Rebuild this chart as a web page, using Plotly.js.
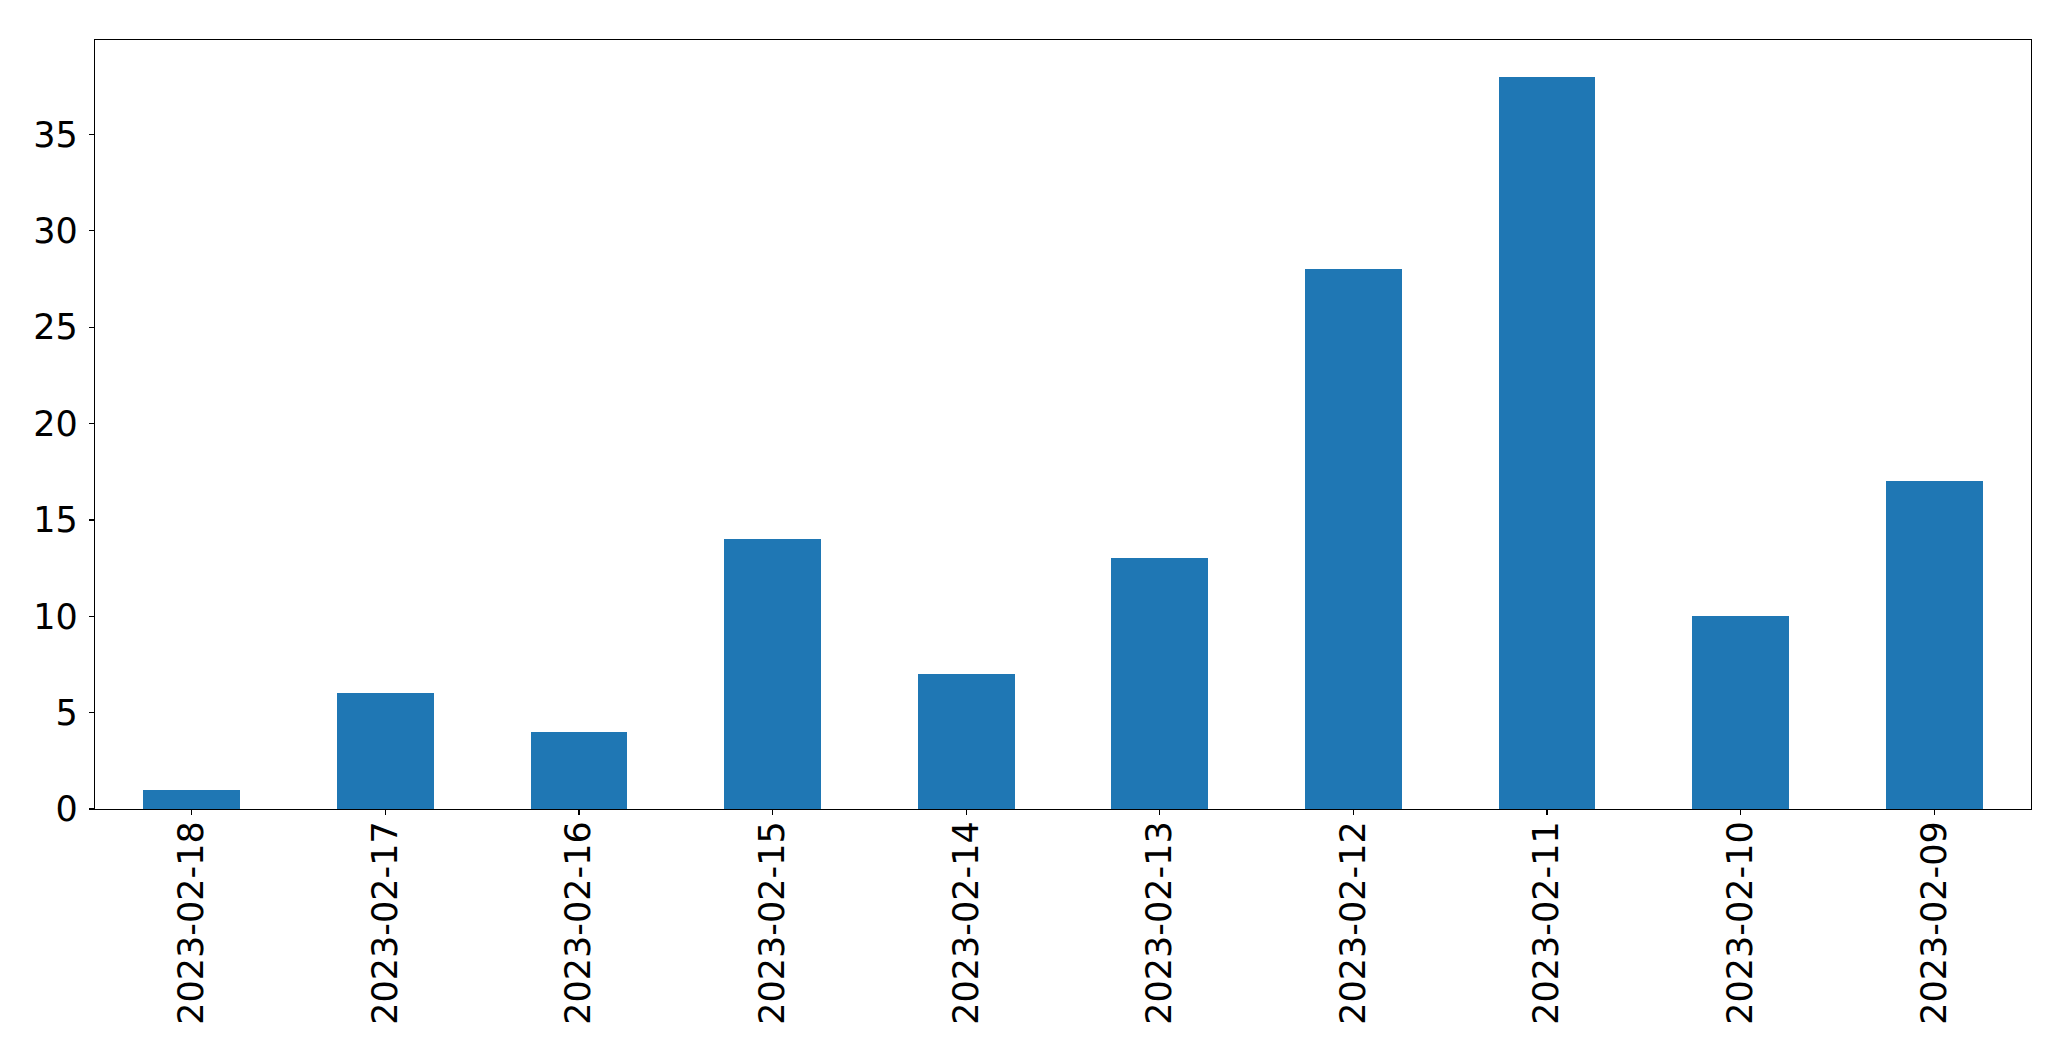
<!DOCTYPE html>
<html>
<head>
<meta charset="utf-8">
<script src="https://cdn.plot.ly/plotly-3.0.1.min.js"></script>
<style>html,body{margin:0;padding:0;background:#fff;}#chart{width:2071px;height:1061px;}</style>
</head>
<body>
<div id="chart"></div>
<script>
const categories = ["2023-02-18","2023-02-17","2023-02-16","2023-02-15","2023-02-14","2023-02-13","2023-02-12","2023-02-11","2023-02-10","2023-02-09"];
const counts = [1, 6, 4, 14, 7, 13, 28, 38, 10, 17];
const yTicks = [0, 5, 10, 15, 20, 25, 30, 35];

const trace = {
  type: 'bar',
  x: categories,
  y: counts,
  width: 0.5,
  marker: {color: '#1f77b4', line: {width: 0}},
  hoverinfo: 'x+y'
};

const axisCommon = {
  showline: true,
  linecolor: '#000',
  linewidth: 1.3,
  mirror: true,
  ticks: 'outside',
  ticklen: 5,
  tickwidth: 1.3,
  tickcolor: '#000',
  showgrid: false,
  zeroline: false,
  tickfont: {family: 'DejaVu Sans', size: 35, color: '#000'}
};

const layout = {
  width: 2071,
  height: 1061,
  margin: {l: 94.5, r: 40, t: 39.5, b: 252, pad: 0},
  paper_bgcolor: '#fff',
  plot_bgcolor: '#fff',
  showlegend: false,
  bargap: 0,
  xaxis: Object.assign({}, axisCommon, {
    type: 'category',
    range: [-0.5, categories.length - 0.5],
    tickangle: -90,
    ticklabelstandoff: -8
  }),
  yaxis: Object.assign({}, axisCommon, {
    range: [0, Math.max(...counts) * 1.05],
    tickvals: yTicks,
    ticktext: yTicks.map(String),
    ticklabelstandoff: 4
  })
};

Plotly.newPlot('chart', [trace], layout, {displayModeBar: false, staticPlot: true});
</script>
</body>
</html>
